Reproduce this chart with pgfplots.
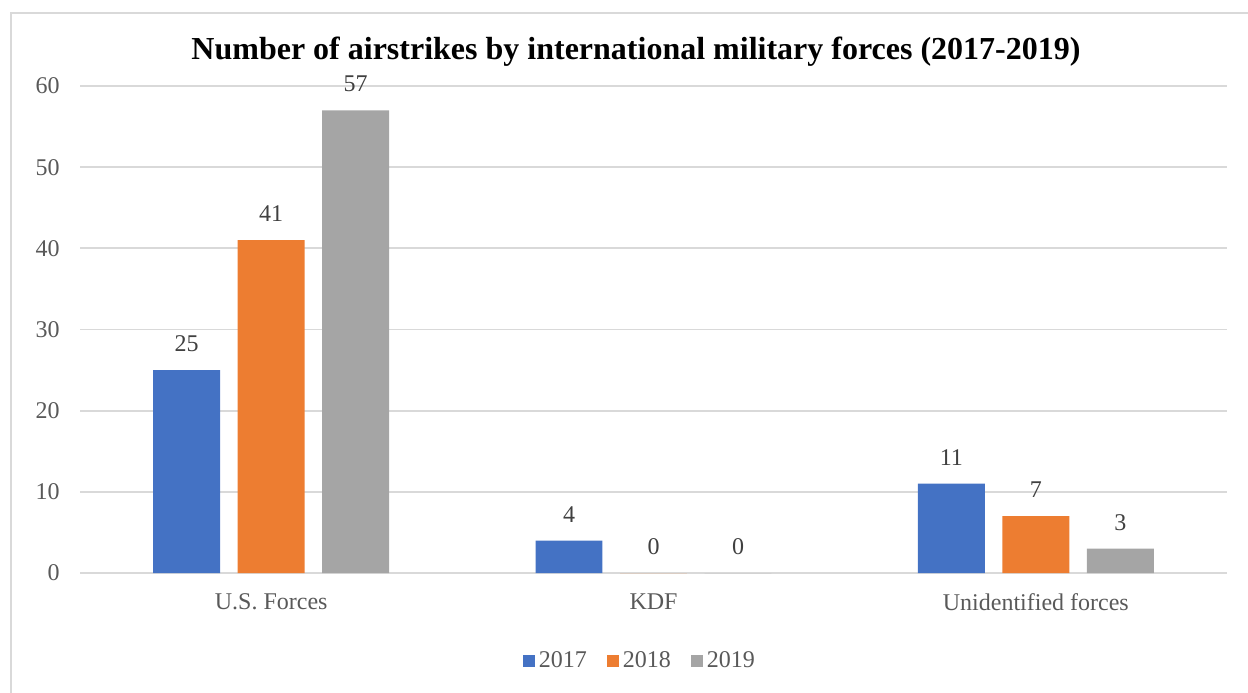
\documentclass[border=0pt]{standalone}
\usepackage{fontspec}
\setmainfont{Liberation Serif}
\usepackage{pgfplots}
\pgfplotsset{compat=1.18}

\definecolor{c2017}{HTML}{4472C4}
\definecolor{c2018}{HTML}{ED7D31}
\definecolor{c2019}{HTML}{A5A5A5}
\definecolor{gridgray}{HTML}{D9D9D9}
\definecolor{ticktext}{HTML}{595959}
\definecolor{labeltext}{HTML}{404040}

\begin{document}
\begin{tikzpicture}
\begin{axis}[
  at={(40pt,59.5pt)}, anchor=south west,
  scale only axis,
  width=573.5pt, height=243.5pt,
  ybar,
  bar width=0.175,
  xmin=-0.5, xmax=2.5,
  ymin=0, ymax=60,
  ytick={0,10,...,60},
  xtick={0,1,2},
  xticklabels={U.S. Forces, KDF, Unidentified forces},
  axis line style={draw=none},
  major tick length=0pt,
  ymajorgrids,
  grid style={gridgray, line width=0.9pt},
  /pgf/number format/assume math mode=true,
  tick label style={font=\fontsize{12}{14}\selectfont, text=ticktext},
  yticklabel style={inner sep=0pt, xshift=-10pt},
  xticklabel style={inner sep=0pt, yshift=-10pt},
  nodes near coords,
  every node near coord/.append style={font=\fontsize{12}{14}\selectfont, text=labeltext, inner sep=0pt, anchor=south, yshift=9pt},
  legend style={at={(axis description cs:0.489,-0.181)}, anchor=center, draw=none,
    legend columns=-1, font=\fontsize{12}{14}\selectfont, text=ticktext,
    /tikz/every even column/.append style={column sep=8pt}},
  legend image code/.code={\fill[#1] (0pt,-3pt) rectangle (6pt,3pt);},
]
\addplot[fill=c2017, draw=none, bar shift=-0.221] coordinates {(0,25) (1,4) (2,11)};
\addplot[fill=c2018, draw=none, bar shift=0] coordinates {(0,41) (1,0) (2,7)};
\addplot[fill=c2019, draw=none, bar shift=0.221] coordinates {(0,57) (1,0) (2,3)};
\legend{2017,2018,2019}
\end{axis}
\node[font=\bfseries\fontsize{16}{19}\selectfont] at (318pt,320pt) {Number of airstrikes by international military forces (2017-2019)};
\pgfresetboundingbox
\useasboundingbox (0,0) rectangle (624pt,346pt);
\draw[gridgray, line width=0.9pt] (5.5pt,-5pt) -- (5.5pt,339.5pt) -- (630pt,339.5pt);
\end{tikzpicture}
\end{document}
